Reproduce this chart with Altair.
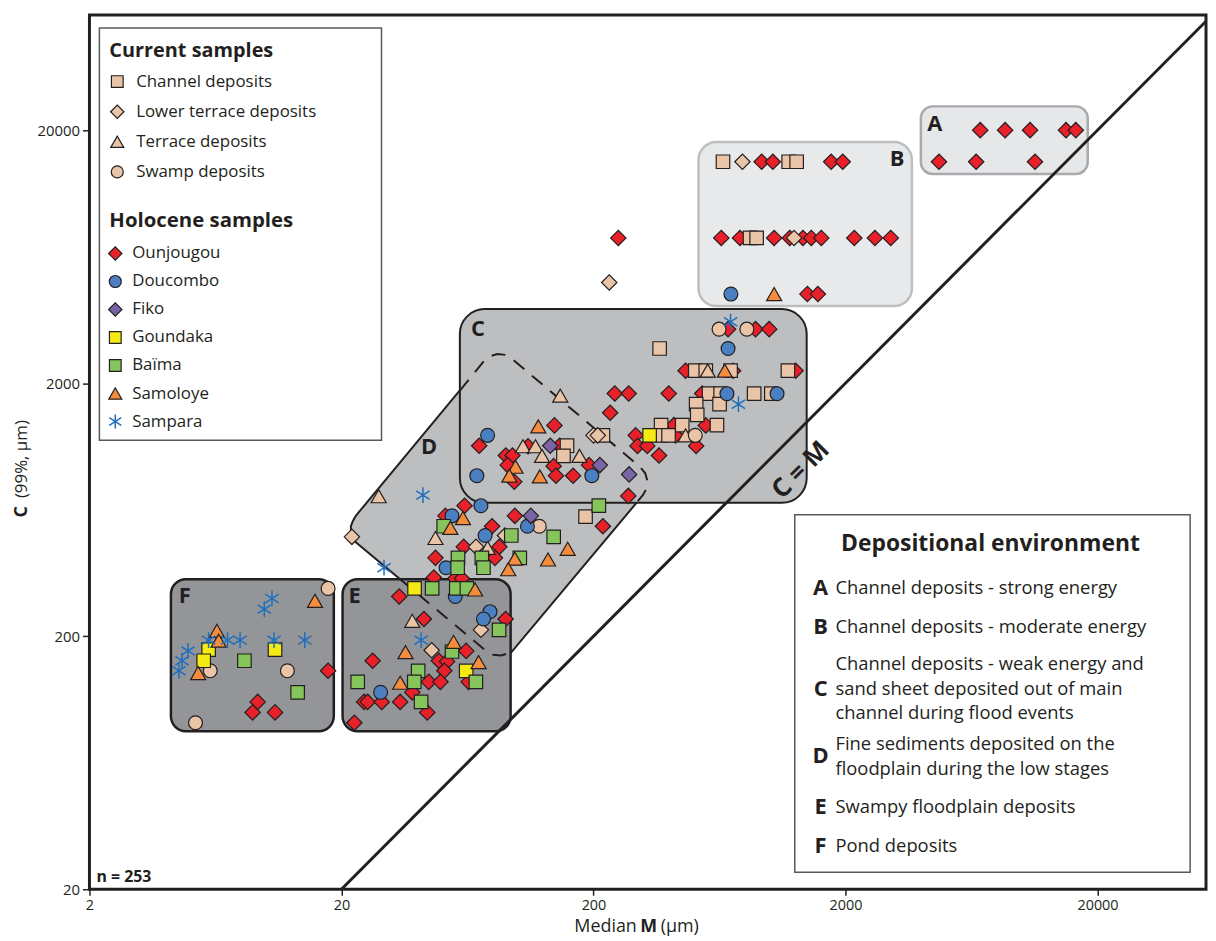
import altair as alt
import pandas as pd

FONT = "Open Sans"
INK = "#231f20"

# ---------------- data (M = median, C = 99th percentile, µm) ----------------
ounjougou_M = [6850, 8600, 10800, 15000, 16400, 4700, 6600, 11300,
               930, 1030, 1755, 1950, 643, 763, 1042, 1202, 1356, 1463, 1603, 2168, 2617, 3024,
               1412, 1554, 251,
               684, 879, 996, 464, 716, 1268, 243, 276, 398, 540, 233, 140, 417, 558, 294, 423,
               70.4, 110, 146.8, 299, 327, 511, 89.8, 95.4, 364, 91.3, 139, 192, 97, 142, 166, 275,
               61.6, 51.7, 97.5, 79.2, 218, 61.1, 84.6, 47.2, 81.3, 46.5, 56.6, 60.1,
               33.9, 42.5, 89.6, 62.5, 26.6, 48.7, 52.5, 51.2, 44.4, 49.4, 63.9, 38.2, 24.6, 25.4,
               28.9, 34.2, 43.8, 22.5,
               17.7, 9.3, 8.88, 10.9]
ounjougou_C = [20000, 20000, 20000, 20000, 20000, 15000, 15000, 15000,
               15000, 15000, 15000, 15000, 7500, 7500, 7500, 7500, 7500, 7500, 7500, 7500, 7500, 7500,
               4500, 4500, 7500,
               3270, 3270, 3270, 2240, 2240, 2240, 1820, 1820, 1820, 1820, 1528, 1362, 1365, 1362, 1244, 1244,
               1132, 1127, 1132, 1130, 1130, 1130, 1036, 1036, 1036, 949, 940, 949, 816, 862, 862, 717,
               656, 598, 598, 544, 544, 451, 451, 408, 408, 341, 338, 338,
               287, 234, 234, 175, 160, 160, 159, 146, 132, 132, 132, 120, 110, 110,
               110, 110, 100, 91,
               146, 110, 100, 100]

doucombo_M = [702, 684, 677, 1070, 76, 68.9, 197, 71.5, 54.9, 109.4, 74.3, 52, 56.6, 77.7, 73.2, 28.6]
doucombo_C = [4500, 2742, 1818, 1818, 1244, 862, 862, 656, 598, 544, 500, 373, 287, 250, 234, 120]

fiko_M = [134.8, 212, 277, 112.8]
fiko_C = [1132, 949, 872, 598]

goundaka_M = [334, 39, 62.5, 5.94, 10.9, 5.68]
goundaka_C = [1244, 309, 146, 177, 177, 160]

baima_M = [210, 50.9, 94.4, 139, 58, 72.1, 102, 57.8, 73.2, 45.8, 57.1, 62.9, 84.4, 54.9, 40.3,
           23.2, 38.9, 68.3, 41.4, 8.24, 13.4]
baima_C = [656, 544, 500, 494, 408, 408, 408, 373, 373, 309, 309, 309, 212, 174, 146,
           132, 132, 132, 110, 160, 120]

samoloye_M = [1042, 664, 120.8, 98.1, 92.7, 122.5, 60.7, 54.1, 158, 97.5, 132, 91.8, 67.8, 55.7,
              35.9, 70, 34.2, 15.7, 6.41, 6.51, 5.4]
samoloye_C = [4500, 2242, 1350, 935, 862, 856, 586, 536, 443, 405, 402, 368, 306, 190,
              173, 158, 131, 276, 210, 192, 143]

sampara_M = [700, 752, 42.1, 29.5, 41.4, 10.6, 9.88, 5.94, 7.06, 7.92, 10.8, 14.3, 4.92, 4.66, 4.53]
sampara_C = [3500, 1652, 722, 373, 193, 282, 256, 193, 193, 193, 193, 193, 175, 160, 146]

channel_M = [653, 1190, 1280, 836, 888, 366, 507, 558, 700, 1182, 575, 639, 868, 1016, 511, 633,
             516, 371, 450, 618, 218, 371, 397, 157, 152, 186]
channel_C = [15000, 15000, 15000, 7500, 7500, 2742, 2242, 2242, 2242, 2242, 1818, 1818, 1818, 1818,
             1652, 1652, 1500, 1365, 1365, 1365, 1244, 1244, 1244, 1132, 1032, 594]

lower_terrace_M = [780, 1250, 231, 200, 208, 22, 89.1, 68.4, 71.5, 45.6]
lower_terrace_C = [15000, 7500, 5000, 1244, 1244, 494, 500, 451, 212, 176]

terrace_M = [568, 147.6, 464, 105, 117.7, 125, 176, 28.1, 47.2, 76, 38.2]
terrace_C = [2242, 1786, 1244, 1127, 1127, 1032, 1032, 715, 489, 447, 230]

swamp_M = [630, 812, 507, 121.9, 17.7, 6.03, 12.2, 5.27]
swamp_C = [3270, 3270, 1244, 544, 309, 146, 146, 91]

# environment boxes (µm)
box_names = ["A", "B", "C", "E", "F"]
box_M0 = [3982, 522, 59.0, 20.2, 4.21]
box_M1 = [18290, 3670, 1403, 93.8, 18.65]
box_C0 = [13420, 4034, 673, 84.2, 84.2]
box_C1 = [24830, 17940, 3926, 336, 336]

# D band (rotated box): lower / upper outline
d_M = [21.8, 22.2, 22.7, 23.3, 82.6, 86.4, 353]
d_Cup = [545, 571, 594, 614, 2810, 2704, 829]
d_Clo = [517, 492, 472, 462, 161.6, 155.6, 829]

# dashed continuation of D inside C and inside E
dashC_M = [59.0, 73.5, 77.7, 83.1, 89.2, 94.8, 307, 321, 327, 325, 314, 296]
dashC_C = [1868, 2444, 2556, 2606, 2588, 2500, 931, 881, 824, 768, 722, 673]
dashE_M = [34.2, 75.1, 80.0, 85.9, 91.8, 93.8]
dashE_C = [336, 174.6, 168.9, 167.7, 171.2, 173.2]

# C = M line
cm_vals = [20, 53900]

x_ticks = [2, 20, 200, 2000, 20000]
y_ticks = [20, 200, 2000, 20000]

# ---------------- styles ----------------
ASTER = "M0,-1L0,1M-0.85,-0.55L0.85,0.55M-0.85,0.55L0.85,-0.55"
series = [
    ("Ounjougou", ounjougou_M, ounjougou_C, "diamond", "#e8202a", 240),
    ("Channel deposits", channel_M, channel_C, "square", "#e9c4a6", 185),
    ("Lower terrace deposits", lower_terrace_M, lower_terrace_C, "diamond", "#e9c4a6", 240),
    ("Terrace deposits", terrace_M, terrace_C, "triangle-up", "#e9c4a6", 230),
    ("Swamp deposits", swamp_M, swamp_C, "circle", "#e9c4a6", 195),
    ("Doucombo", doucombo_M, doucombo_C, "circle", "#4a7fc1", 195),
    ("Fiko", fiko_M, fiko_C, "diamond", "#7a64a8", 240),
    ("Goundaka", goundaka_M, goundaka_C, "square", "#f5ea14", 185),
    ("Baïma", baima_M, baima_C, "square", "#86c55b", 185),
    ("Samoloye", samoloye_M, samoloye_C, "triangle-up", "#f68d3c", 230),
    ("Sampara", sampara_M, sampara_C, ASTER, "#1f6fbf", 250),
]

X_SCALE = alt.Scale(type="log", domain=[2, 53900], nice=False)
Y_SCALE = alt.Scale(type="log", domain=[20, 57000], nice=False)

XAXIS = alt.Axis(values=x_ticks, format="d", title=None, grid=False, domain=False,
                 tickSize=6, tickWidth=1.5, tickColor=INK, labelFont=FONT, labelFontSize=14.5,
                 labelColor=INK, labelPadding=3, labelOverlap=False, labelFlush=False)
YAXIS = alt.Axis(values=y_ticks, format="d", title=None, grid=False, domain=False,
                 tickSize=7, tickWidth=1.5, tickColor=INK, labelFont=FONT, labelFontSize=15,
                 labelColor=INK, labelPadding=3, labelOverlap=False, labelFlush=False)

ORIGIN_X, ORIGIN_Y = 90, 12
ONE = alt.Data(values=[{"k": 0}])


def XE(field):
    return alt.X(f"{field}:Q", scale=X_SCALE, axis=XAXIS)


def YE(field):
    return alt.Y(f"{field}:Q", scale=Y_SCALE, axis=YAXIS)


def T(text, x, y, size=16, bold=False, align="left", angle=None, color=INK):
    kw = dict(text=text, font=FONT, fontSize=size, fontWeight="bold" if bold else "normal",
              align=align, baseline="middle", color=color)
    if angle is not None:
        kw["angle"] = angle
    return alt.Chart(ONE).mark_text(**kw).encode(
        x=alt.value(x - ORIGIN_X), y=alt.value(y - ORIGIN_Y))


def R(x0, y0, x1, y1, stroke="#58595b", sw=1.5):
    return alt.Chart(ONE).mark_rect(fill="white", stroke=stroke, strokeWidth=sw).encode(
        x=alt.value(x0 - ORIGIN_X), x2=alt.value(x1 - ORIGIN_X),
        y=alt.value(y0 - ORIGIN_Y), y2=alt.value(y1 - ORIGIN_Y))


def SYM(shape, fill, size, x, y):
    if shape == ASTER:
        m = alt.Chart(ONE).mark_point(shape=shape, filled=False, stroke=fill, strokeWidth=1.5,
                                      size=size * 0.8, opacity=1)
    else:
        m = alt.Chart(ONE).mark_point(shape=shape, filled=True, fill=fill, stroke=INK,
                                      strokeWidth=1.2, size=size * 0.75, opacity=1)
    return m.encode(x=alt.value(x - ORIGIN_X), y=alt.value(y - ORIGIN_Y))


layers = []

boxes = pd.DataFrame({"name": box_names, "M0": box_M0, "M1": box_M1, "C0": box_C0, "C1": box_C1})


def box_layer(names, fill, stroke, sw, radius):
    df = boxes[boxes["name"].isin(names)]
    return alt.Chart(df).mark_rect(fill=fill, stroke=stroke, strokeWidth=sw, cornerRadius=radius).encode(
        x=XE("M0"), x2="M1:Q", y=YE("C0"), y2="C1:Q")


layers.append(box_layer(["A"], "#e6e7e8", "#a7a9ac", 2.5, 12))
layers.append(box_layer(["B"], "#e8e9ea", "#bcbec0", 2.5, 18))

# D band
dband = pd.DataFrame({"M": d_M, "Cu": d_Cup, "Cl": d_Clo})
layers.append(alt.Chart(dband).mark_area(fill="#bcbec0", stroke=INK, strokeWidth=2, opacity=1).encode(
    x=XE("M"), y=YE("Cu"), y2="Cl:Q"))

layers.append(box_layer(["C"], "#bcbec0", INK, 2, 25))
layers.append(box_layer(["E", "F"], "#939598", INK, 2.5, 15))

# dashed outlines of D
dash = pd.DataFrame({
    "M": dashC_M + dashE_M,
    "C": dashC_C + dashE_C,
    "seg": ["c"] * len(dashC_M) + ["e"] * len(dashE_M),
    "ord": list(range(len(dashC_M))) + list(range(len(dashE_M))),
})
layers.append(alt.Chart(dash).mark_line(stroke=INK, strokeWidth=2, strokeDash=[14, 10]).encode(
    x=XE("M"), y=YE("C"), detail="seg:N", order="ord:Q"))

# C = M line
cm = pd.DataFrame({"M": cm_vals, "C": cm_vals})
layers.append(alt.Chart(cm).mark_line(stroke=INK, strokeWidth=3, clip=True).encode(
    x=XE("M"), y=YE("C")))

# sample points
for name, Ms, Cs, shape, fill, size in series:
    df = pd.DataFrame({"M": Ms, "C": Cs, "series": name})
    if shape == ASTER:
        mk = alt.Chart(df).mark_point(shape=shape, filled=False, stroke=fill, strokeWidth=1.5,
                                      size=size, opacity=1)
    else:
        mk = alt.Chart(df).mark_point(shape=shape, filled=True, fill=fill, stroke=INK,
                                      strokeWidth=1.2, size=size, opacity=1)
    layers.append(mk.encode(x=XE("M"), y=YE("C")))

# region letters
for letter, x, y in [("A", 941, 122), ("B", 903, 157), ("C", 481, 328), ("D", 432, 447),
                     ("E", 357, 597), ("F", 186, 597)]:
    layers.append(T(letter, x, y, size=22, bold=True, align="center"))

layers.append(T("C = M", 806, 470, size=26, bold=True, align="center", angle=315))
layers.append(T("n = 253", 97, 880, size=16, bold=True))

# axis titles
layers.append(T("C", 22, 512, size=18, bold=True, align="center", angle=270))
layers.append(T("(99%, µm)", 22, 459, size=17, align="center", angle=270))
layers.append(T("Median", 641, 930, size=18, align="right"))
layers.append(T("M", 653, 930, size=18, bold=True, align="center"))
layers.append(T("(µm)", 665, 930, size=18, align="left"))

# legend: samples
layers.append(R(100, 25, 384, 440))
layers.append(T("Current samples", 110, 48, size=20, bold=True))
cur = series[1:5]
for i, (name, _, _, shape, fill, size) in enumerate(cur):
    y = 79 + i * 30.3
    layers.append(SYM(shape, fill, size, 118, y))
    layers.append(T(name, 137, y, size=17))
layers.append(T("Holocene samples", 110, 219, size=20.5, bold=True))
hol = [series[0]] + series[5:]
for i, (name, _, _, shape, fill, size) in enumerate(hol):
    y = 252 + i * 28.2
    layers.append(SYM(shape, fill, size, 116, y))
    layers.append(T(name, 133, y, size=17))

# legend: depositional environment
layers.append(R(800, 515, 1198, 875))
layers.append(T("Depositional environment", 997, 545, size=23, bold=True, align="center"))
env_letters = [("A", 589), ("B", 628), ("C", 690), ("D", 758), ("E", 809), ("F", 849)]
env_lines = [("Channel deposits - strong energy", 589),
             ("Channel deposits - moderate energy", 628),
             ("Channel deposits - weak energy and", 665),
             ("sand sheet deposited out of main", 690),
             ("channel  during flood events", 715),
             ("Fine sediments deposited on the", 746),
             ("floodplain during the low stages", 771),
             ("Swampy floodplain deposits", 809),
             ("Pond deposits", 849)]
for letter, y in env_letters:
    layers.append(T(letter, 826, y, size=22, bold=True, align="center"))
for line, y in env_lines:
    layers.append(T(line, 841, y, size=18.5))

chart = alt.layer(*layers).properties(
    width=1124, height=880,
    autosize=alt.AutoSizeParams(type="none"),
    padding={"left": 82, "top": 4, "right": 2, "bottom": 49},
).configure_view(stroke=INK, strokeWidth=3)

chart.save("out.html", embed_options={"renderer": "svg", "actions": False})
